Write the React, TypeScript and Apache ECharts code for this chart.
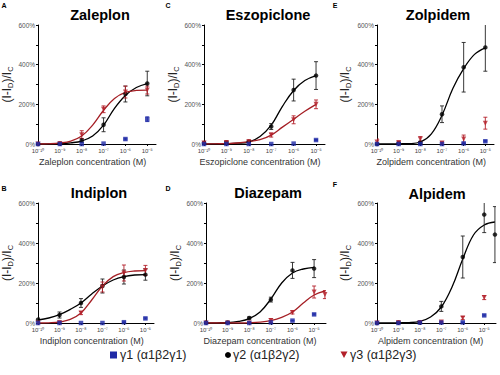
import React, { useEffect, useRef } from "react";
import * as echarts from "echarts";

// ---------- data (exponents of molar concentration, % potentiation) ----------
const EXP6 = [-10, -9, -8, -7, -6, -5];
const EXP7 = [-10, -9, -8, -7, -6, -5, -4.5];
const CURVE_X = [-10, -9.5, -9, -8.5, -8, -7.5, -7, -6.5, -6, -5.5, -5];
const CURVE_X_EXT = [-10, -9.5, -9, -8.5, -8, -7.5, -7, -6.5, -6, -5.5, -5, -4.5];
const X_TICKS = [-10, -9, -8, -7, -6, -5];
const Y_TICKS = [0, 200, 400, 600];

const SERIES_NAMES = ["γ1 (α1β2γ1)", "γ2 (α1β2γ2)", "γ3 (α1β2γ3)"];

// Zaleplon
const zalG1 = [0, 0, 0, 2, 25, 125];
const zalE1 = [0, 0, 0, 0, 4, 12];
const zalG2 = [0, 2, 18, 97, 252, 305];
const zalE2 = [2, 3, 10, 35, 40, 62];
const zalG3 = [0, 3, 47, 175, 262, 272];
const zalE3 = [2, 3, 20, 17, 30, 20];
const zalC2 = [0, 0, 2, 6, 15, 40, 95, 180, 245, 285, 305];
const zalC3 = [0, 1, 5, 15, 40, 95, 170, 230, 260, 270, 272];

// Eszopiclone
const eszG1 = [0, 0, 0, 0, 2, 20];
const eszE1 = [0, 0, 0, 0, 0, 3];
const eszG2 = [5, 8, 12, 88, 272, 345];
const eszE2 = [8, 6, 5, 15, 55, 70];
const eszG3 = [5, 8, 12, 45, 122, 200];
const eszE3 = [8, 6, 5, 10, 20, 22];
const eszC2 = [0, 1, 2, 4, 10, 38, 95, 190, 270, 320, 345];
const eszC3 = [0, 1, 2, 5, 12, 22, 45, 85, 125, 165, 200];

// Zolpidem
const zolG1 = [0, 0, 0, 0, 3, 14];
const zolE1 = [0, 0, 0, 0, 2, 3];
const zolG2 = [0, 3, 8, 150, 387, 487];
const zolE2 = [3, 3, 5, 42, 125, 120];
const zolG3 = [10, 8, 25, 5, 25, 105];
const zolE3 = [15, 5, 12, 5, 20, 30];
const zolC2 = [0, 0, 1, 2, 10, 50, 145, 280, 380, 452, 485];

// Indiplon
const indG1 = [0, 0, 0, 0, 4, 23];
const indE1 = [0, 0, 0, 0, 2, 3];
const indG2 = [17, 40, 100, 185, 230, 242];
const indE2 = [8, 15, 22, 35, 35, 28];
const indG3 = [0, 2, 50, 180, 250, 263];
const indE3 = [2, 3, 8, 25, 40, 25];
const indC2 = [15, 25, 42, 68, 100, 145, 185, 215, 232, 240, 242];
const indC3 = [0, 1, 5, 18, 50, 115, 185, 232, 252, 260, 262];

// Diazepam
const diaG1 = [0, 0, 0, 3, 12, 43, null];
const diaE1 = [0, 0, 0, 0, 2, 3, null];
const diaG2 = [2, 3, 25, 117, 263, 272, null];
const diaE2 = [2, 2, 5, 12, 40, 45, null];
const diaG3 = [0, 0, 0, 12, 53, 155, 142];
const diaE3 = [2, 2, 2, 10, 8, 30, 20];
const diaC2 = [0, 1, 2, 8, 22, 55, 120, 200, 250, 270, 278, null];
const diaC3 = [0, 0, 0, 0, 1, 4, 12, 28, 55, 100, 140, 160];

// Alpidem
const alpG1 = [0, 0, 2, 2, 3, 38, null];
const alpE1 = [0, 0, 0, 0, 2, 3, null];
const alpG2 = [0, 2, 3, 83, 330, 542, 442];
const alpE2 = [2, 2, 2, 25, 105, 90, 140];
const alpG3 = [0, 3, 3, 5, 25, 127, null];
const alpE3 = [2, 2, 2, 3, 8, 10, null];
const alpC2 = [0, 0, 1, 2, 8, 30, 80, 180, 320, 440, 490, 505];

// ---------- styling ----------
const BLUE = "#1f2aa6";
const BLACK = "#000000";
const RED = "#b3202a";
const RED_LINE = "#a51f25";
const FONT = "'Liberation Sans', Arial, sans-serif";

type Panel = {
  title: string;
  letter: string;
  drug: string;
  x: number[];
  g1: (number | null)[]; e1: (number | null)[];
  g2: (number | null)[]; e2: (number | null)[];
  g3: (number | null)[]; e3: (number | null)[];
  cx: number[];
  c2: (number | null)[];
  c3: (number | null)[] | null;
  grid: { left: number; top: number; width: number; height: number };
  max: number;
  titlePos: [number, number];
  letterPos: [number, number];
  nameGap: number;
};

const panels: Panel[] = [
  { title: "Zaleplon", letter: "A", drug: "Zaleplon", x: EXP6, g1: zalG1, e1: zalE1, g2: zalG2, e2: zalE2, g3: zalG3, e3: zalE3, cx: CURVE_X, c2: zalC2, c3: zalC3,
    grid: { left: 38, top: 25, width: 118, height: 119 }, max: -4.6, titlePos: [100, 15], letterPos: [4, 5], nameGap: 20 },
  { title: "Eszopiclone", letter: "C", drug: "Eszopiclone", x: EXP6, g1: eszG1, e1: eszE1, g2: eszG2, e2: eszE2, g3: eszG3, e3: eszE3, cx: CURVE_X, c2: eszC2, c3: eszC3,
    grid: { left: 204, top: 25, width: 121, height: 119 }, max: -4.6, titlePos: [268, 15], letterPos: [168, 5], nameGap: 24 },
  { title: "Zolpidem", letter: "E", drug: "Zolpidem", x: EXP6, g1: zolG1, e1: zolE1, g2: zolG2, e2: zolE2, g3: zolG3, e3: zolE3, cx: CURVE_X, c2: zolC2, c3: null,
    grid: { left: 377, top: 25, width: 117, height: 119 }, max: -4.6, titlePos: [438, 15], letterPos: [335, 5], nameGap: 25 },
  { title: "Indiplon", letter: "B", drug: "Indiplon", x: EXP6, g1: indG1, e1: indE1, g2: indG2, e2: indE2, g3: indG3, e3: indE3, cx: CURVE_X, c2: indC2, c3: indC3,
    grid: { left: 38, top: 203, width: 116, height: 120 }, max: -4.6, titlePos: [99, 193], letterPos: [4, 188], nameGap: 19 },
  { title: "Diazepam", letter: "D", drug: "Diazepam", x: EXP7, g1: diaG1, e1: diaE1, g2: diaG2, e2: diaE2, g3: diaG3, e3: diaE3, cx: CURVE_X_EXT, c2: diaC2, c3: diaC3,
    grid: { left: 206, top: 203, width: 120, height: 120 }, max: -4.45, titlePos: [268, 193], letterPos: [168, 188], nameGap: 24 },
  { title: "Alpidem", letter: "F", drug: "Alpidem", x: EXP7, g1: alpG1, e1: alpE1, g2: alpG2, e2: alpE2, g3: alpG3, e3: alpE3, cx: CURVE_X_EXT, c2: alpC2, c3: null,
    grid: { left: 377, top: 203, width: 119, height: 120 }, max: -4.45, titlePos: [437, 194], letterPos: [335, 184], nameGap: 25 },
];

const SUP: Record<string, string> = {
  "-": "⁻", "0": "⁰", "1": "¹", "2": "²", "3": "³", "4": "⁴",
  "5": "⁵", "6": "⁶", "7": "⁷", "8": "⁸", "9": "⁹",
};
const fmtExp = (v: number) =>
  "10" + String(Math.round(v)).split("").map((c) => SUP[c] || c).join("");

function pts(x: number[], y: (number | null)[]) {
  return x.map((xv, i) => [xv, y[i]]).filter((p) => p[1] !== null && p[1] !== undefined);
}
function errPts(x: number[], y: (number | null)[], e: (number | null)[]) {
  return x
    .map((xv, i) => [xv, y[i], e[i]])
    .filter((p) => p[1] !== null && p[2] !== null && (p[2] as number) > 0);
}

function errorSeries(idx: number, data: any[], color: string) {
  return {
    type: "custom",
    xAxisIndex: idx,
    yAxisIndex: idx,
    clip: true,
    silent: true,
    z: 3,
    data,
    renderItem: (params: any, api: any) => {
      const x = api.value(0);
      const y = api.value(1);
      const e = api.value(2);
      const top = api.coord([x, y + e]);
      const bot = api.coord([x, y - e]);
      const w = 2;
      const st = { stroke: color, lineWidth: 0.9 };
      return {
        type: "group",
        children: [
          { type: "line", shape: { x1: top[0], y1: top[1], x2: bot[0], y2: bot[1] }, style: st },
          { type: "line", shape: { x1: top[0] - w, y1: top[1], x2: top[0] + w, y2: top[1] }, style: st },
          { type: "line", shape: { x1: bot[0] - w, y1: bot[1], x2: bot[0] + w, y2: bot[1] }, style: st },
        ],
      };
    },
  };
}

function buildOption() {
  const grids: any[] = [];
  const xAxes: any[] = [];
  const yAxes: any[] = [];
  const series: any[] = [];
  const graphics: any[] = [];

  panels.forEach((p, i) => {
    grids.push({ ...p.grid, containLabel: false });
    xAxes.push({
      type: "value",
      gridIndex: i,
      min: -10,
      max: p.max,
      interval: 1,
      axisLine: { show: true, onZero: false, lineStyle: { color: "#000", width: 1 } },
      axisTick: { show: true, length: 2, customValues: X_TICKS, lineStyle: { color: "#000" } },
      axisLabel: {
        customValues: X_TICKS,
        formatter: (v: number) => fmtExp(v),
        fontSize: 6,
        color: "#444",
        margin: 4,
        fontFamily: FONT,
      },
      splitLine: { show: false },
    });
    yAxes.push({
      type: "value",
      gridIndex: i,
      min: 0,
      max: 600,
      interval: 100,
      axisLine: { show: true, lineStyle: { color: "#000", width: 1 } },
      axisTick: { show: true, length: 2, lineStyle: { color: "#000" } },
      axisLabel: {
        customValues: Y_TICKS,
        formatter: (v: number) => v + "%",
        fontSize: 6.5,
        color: "#555",
        margin: 3,
        fontFamily: FONT,
      },
      splitLine: { show: false },
      name: "{a|(I-I}{s|D}{a|)/I}{s|C}",
      nameLocation: "middle",
      nameRotate: 90,
      nameGap: p.nameGap,
      nameTextStyle: {
        rich: {
          a: { fontSize: 12, color: "#222", fontFamily: FONT },
          s: { fontSize: 7.5, color: "#222", fontFamily: FONT, padding: [7, 0, 0, 0] },
        },
      },
    });

    // fitted curves
    series.push({
      type: "line", xAxisIndex: i, yAxisIndex: i, data: pts(p.cx, p.c2),
      smooth: 0.4, showSymbol: false, symbol: "none", silent: true, z: 2,
      lineStyle: { color: BLACK, width: 1.3 },
    });
    if (p.c3) {
      series.push({
        type: "line", xAxisIndex: i, yAxisIndex: i, data: pts(p.cx, p.c3),
        smooth: 0.4, showSymbol: false, symbol: "none", silent: true, z: 2,
        lineStyle: { color: RED_LINE, width: 1.3 },
      });
    }
    // error bars
    series.push(errorSeries(i, errPts(p.x, p.g2, p.e2), "#222"));
    series.push(errorSeries(i, errPts(p.x, p.g3, p.e3), RED));
    series.push(errorSeries(i, errPts(p.x, p.g1, p.e1), BLUE));
    // points
    series.push({
      name: SERIES_NAMES[1], type: "scatter", xAxisIndex: i, yAxisIndex: i,
      data: pts(p.x, p.g2), symbol: "circle", symbolSize: 4.5, z: 4,
      itemStyle: { color: BLACK },
    });
    series.push({
      name: SERIES_NAMES[2], type: "scatter", xAxisIndex: i, yAxisIndex: i,
      data: pts(p.x, p.g3), symbol: "triangle", symbolRotate: 180, symbolSize: 5, z: 4,
      itemStyle: { color: RED },
    });
    series.push({
      name: SERIES_NAMES[0], type: "scatter", xAxisIndex: i, yAxisIndex: i,
      data: pts(p.x, p.g1), symbol: "rect", symbolSize: 4.5, z: 5,
      itemStyle: { color: BLUE },
    });

    // titles, letters, x-axis names
    graphics.push({
      type: "text", x: p.titlePos[0], y: p.titlePos[1],
      style: { text: p.title, fontSize: 14.5, fontWeight: "bold", fontFamily: FONT, fill: "#000", align: "center", verticalAlign: "middle" },
    });
    graphics.push({
      type: "text", x: p.letterPos[0], y: p.letterPos[1],
      style: { text: p.letter, fontSize: 7, fontWeight: "bold", fontFamily: FONT, fill: "#000", align: "center", verticalAlign: "middle" },
    });
    graphics.push({
      type: "text",
      x: p.grid.left + (5 * p.grid.width) / (p.max + 10) / 2,
      y: p.grid.top + p.grid.height + 18,
      style: { text: p.drug + " concentration (M)", fontSize: 9, fontFamily: FONT, fill: "#333", align: "center", verticalAlign: "middle" },
    });
  });

  // legend (drawn as graphics for exact placement)
  const LY = 355;
  const legendText = (x: number, t: string) => ({
    type: "text", x, y: LY,
    style: { text: t, fontSize: 12.5, fontFamily: FONT, fill: "#222", align: "left", verticalAlign: "middle" },
  });
  graphics.push({ type: "rect", shape: { x: 110, y: LY - 3.5, width: 7, height: 7 }, style: { fill: BLUE } });
  graphics.push(legendText(120, SERIES_NAMES[0]));
  graphics.push({ type: "circle", shape: { cx: 228, cy: LY, r: 3 }, style: { fill: BLACK } });
  graphics.push(legendText(233, SERIES_NAMES[1]));
  graphics.push({ type: "polygon", shape: { points: [[340.5, LY - 3.5], [347.5, LY - 3.5], [344, LY + 3]] }, style: { fill: RED } });
  graphics.push(legendText(350, SERIES_NAMES[2]));

  return {
    animation: false,
    backgroundColor: "#ffffff",
    grid: grids,
    xAxis: xAxes,
    yAxis: yAxes,
    series,
    graphic: graphics,
  };
}

export default function App() {
  const ref = useRef<HTMLDivElement>(null);
  useEffect(() => {
    if (!ref.current) return;
    const chart = echarts.init(ref.current, undefined, { renderer: "svg" });
    chart.setOption(buildOption() as any);
    return () => chart.dispose();
  }, []);
  return (
    <div
      ref={ref}
      style={{ position: "absolute", left: 0, top: 0, width: 500, height: 375, background: "#fff" }}
    />
  );
}
